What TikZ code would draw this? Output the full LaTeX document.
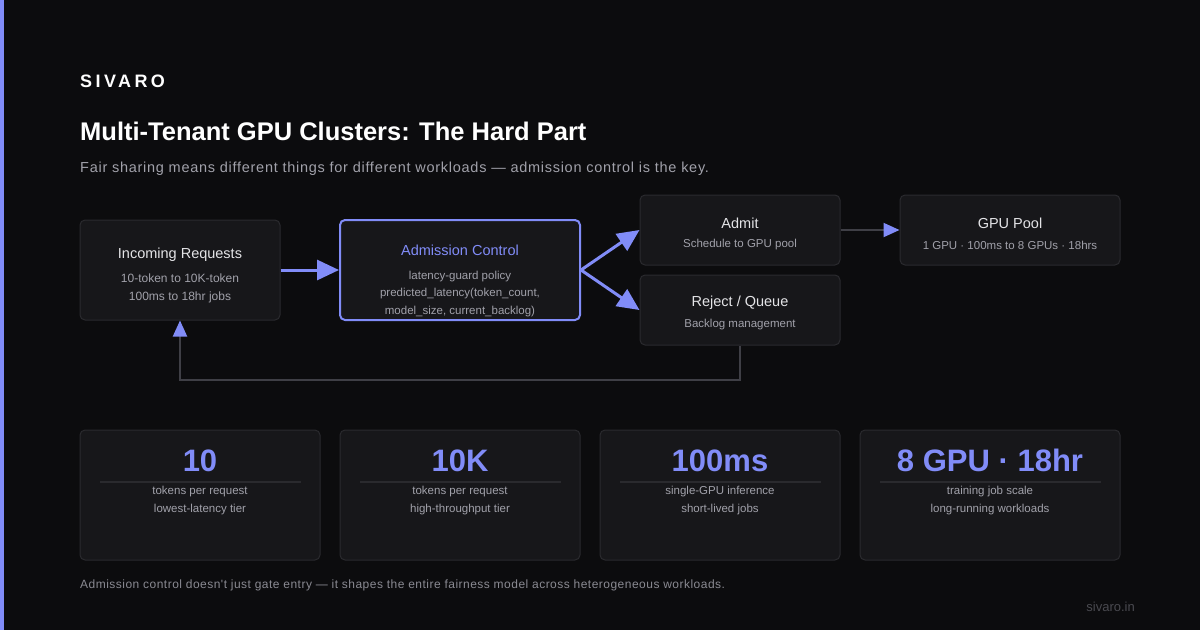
\documentclass[tikz,border=0pt]{standalone}
\usepackage{fontspec}
\setmainfont{Liberation Sans}
\newfontfamily\brandfont[LetterSpace=19]{Liberation Sans}
\newfontfamily\widefont[LetterSpace=4]{Liberation Sans}
\newfontfamily\widerfont[LetterSpace=5]{Liberation Sans}
\usepackage{xcolor}
\usetikzlibrary{calc, arrows.meta}

\definecolor{cbg}{HTML}{0C0C0E}
\definecolor{ccard}{HTML}{17171A}
\definecolor{cedge}{HTML}{2A2A2E}
\definecolor{cwire}{HTML}{3F3F46}
\definecolor{caccent}{HTML}{818CF8}
\definecolor{cink}{HTML}{E4E4E7}
\definecolor{cmuted}{HTML}{A1A1AA}
\definecolor{cfoot}{HTML}{8A8A92}
\definecolor{cfaint}{HTML}{4A4A50}

\begin{document}
\begin{tikzpicture}[x=1pt, y=-1pt,
	box/.style={draw=cedge, fill=ccard, line width=1pt, rounded corners=5pt},
	head/.style={text=cink, font=\fontsize{14.5}{17}\selectfont},
	sub/.style={text=cmuted, align=center, font=\fontsize{11.5}{18}\selectfont},
	big/.style={text=caccent, anchor=base, font=\bfseries\fontsize{31}{31}\selectfont},
	flow/.style={caccent, line width=3pt, -{Triangle[length=22pt, width=20pt]}},
	wireline/.style={cwire, line width=2pt, -{Triangle[length=16pt, width=14pt, color=caccent]}}]
	
	\fill[cbg] (0,0) rectangle (1200,630);
	\fill[caccent] (0,0) rectangle (4,630);
	
	\begin{scope}[anchor=base west]
		\node[text=white, font=\brandfont\bfseries\fontsize{18}{18}\selectfont, inner sep=0pt] (brand) at (80,87.5) {SIVARO};
		\node[text=white, font=\bfseries\fontsize{25.5}{26}\selectfont, inner sep=0pt] (title) at (80,140) {Multi-Tenant GPU Clusters: The Hard Part};
		\node[text=cmuted, font=\widerfont\fontsize{14.5}{16}\selectfont, inner sep=0pt] (subtitle) at (80,172) {Fair sharing means different things for different workloads — admission control is the key.};
	\end{scope}
	
	% flow boxes
	\node[box, minimum width=200pt, minimum height=100pt] (inc) at (180,270) {};
	\node[box, draw=caccent, line width=2pt, minimum width=240pt, minimum height=100pt] (adm) at (460,270) {};
	\node[box, minimum width=200pt, minimum height=70pt] (admit) at (740,230) {};
	\node[box, minimum width=200pt, minimum height=70pt] (rej) at (740,310) {};
	\node[box, minimum width=220pt, minimum height=70pt] (pool) at (1010,230) {};
	
	\node[head] at (180,255) {Incoming Requests};
	\node[sub, font=\fontsize{12}{18}\selectfont] at (180,288) {10-token to 10K-token\\100ms to 18hr jobs};
	
	\node[head, text=caccent] at (460,250) {Admission Control};
	\node[sub, font=\fontsize{11.5}{17.5}\selectfont] at (460,294) {latency-guard policy\\predicted\_latency(token\_count,\\model\_size, current\_backlog)};
	
	\node[head] at (740,223) {Admit};
	\node[sub] at (740,245) {Schedule to GPU pool};
	
	\node[head] at (740,303) {Reject / Queue};
	\node[sub] at (740,325) {Backlog management};
	
	\node[head] at (1010,223) {GPU Pool};
	\node[sub] at (1010,245) {1 GPU · 100ms to 8 GPUs · 18hrs};
	
	\coordinate (back) at (0,380);
	
	\draw[flow] (inc.east) -- (adm.west);
	\draw[flow] (adm.east) -- (admit.west);
	\draw[flow] (adm.east) -- (rej.west);
	\draw[wireline] (admit.east) -- (pool.west);
	\draw[wireline] (rej.south) -- (rej.south |- back) -| (inc.south);
	
	% stat cards
	\node[box, minimum width=240pt, minimum height=130pt] (c1) at (200,495) {};
	\node[box, minimum width=240pt, minimum height=130pt] (c2) at (460,495) {};
	\node[box, minimum width=240pt, minimum height=130pt] (c3) at (720,495) {};
	\node[box, minimum width=260pt, minimum height=130pt] (c4) at (990,495) {};
	
	\begin{scope}[cedge, line width=2pt]
		\draw ($ (c1.north west) + (20,52) $) -- ($ (c1.north east) + (-20,52) $);
		\draw ($ (c2.north west) + (20,52) $) -- ($ (c2.north east) + (-20,52) $);
		\draw ($ (c3.north west) + (20,52) $) -- ($ (c3.north east) + (-20,52) $);
		\draw ($ (c4.north west) + (20,52) $) -- ($ (c4.north east) + (-20,52) $);
	\end{scope}
	
	\node[big] at (200,471) {10};
	\node[big] at (460,471) {10K};
	\node[big] at (720,471) {100ms};
	\node[big] at (990,471) {8 GPU · 18hr};
	
	\node[sub] at (200,501) {tokens per request\\lowest-latency tier};
	\node[sub] at (460,501) {tokens per request\\high-throughput tier};
	\node[sub] at (720,501) {single-GPU inference\\short-lived jobs};
	\node[sub] at (990,501) {training job scale\\long-running workloads};
	
	\node[text=cfoot, font=\widefont\fontsize{12}{14}\selectfont, anchor=west, inner sep=0pt] (foot) at (80,585) {Admission control doesn't just gate entry — it shapes the entire fairness model across heterogeneous workloads.};
	\node[text=cfaint, font=\fontsize{13}{14}\selectfont, anchor=east, inner sep=0pt] (site) at (1135,607) {sivaro.in};
\end{tikzpicture}
\end{document}
